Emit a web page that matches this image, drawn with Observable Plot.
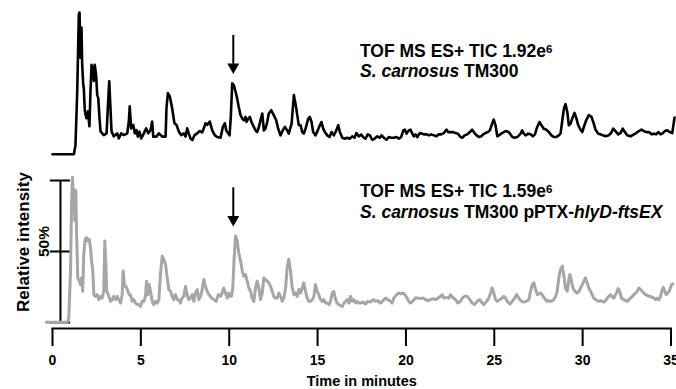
<!DOCTYPE html>
<html><head><meta charset="utf-8">
<script src="https://cdn.jsdelivr.net/npm/d3@7"></script>
<script src="https://cdn.jsdelivr.net/npm/@observablehq/plot@0.6"></script>
<style>
html,body{margin:0;padding:0;background:#fff;}
#chart svg{display:block;}
</style></head><body><div id="chart"></div>
<script>
// ---- data (retention time in minutes, relative intensity in %) ----
const topTime = [0.00,1.21,1.30,1.40,1.49,1.53,1.58,1.64,1.68,1.74,1.77,1.83,1.92,2.00,2.09,2.15,2.21,2.28,2.34,2.39,2.47,2.53,2.59,2.66,2.72,2.90,3.06,3.13,3.21,3.28,3.34,3.47,3.66,3.75,3.89,4.04,4.23,4.32,4.37,4.45,4.57,4.66,4.75,4.83,4.92,5.02,5.17,5.30,5.42,5.55,5.64,5.70,5.89,6.02,6.21,6.40,6.45,6.53,6.64,6.77,6.90,7.02,7.15,7.28,7.43,7.53,7.62,7.71,7.81,7.91,8.04,8.19,8.34,8.47,8.56,8.66,8.75,8.90,9.04,9.19,9.32,9.51,9.64,9.75,9.83,9.94,10.02,10.09,10.17,10.26,10.36,10.45,10.54,10.64,10.74,10.83,10.92,10.98,11.08,11.17,11.26,11.39,11.49,11.58,11.68,11.77,11.87,11.96,12.05,12.15,12.24,12.38,12.52,12.66,12.77,12.90,13.03,13.15,13.28,13.37,13.53,13.66,13.75,13.85,13.94,14.04,14.13,14.22,14.32,14.47,14.56,14.66,14.75,14.88,15.01,15.13,15.22,15.32,15.41,15.55,15.68,15.79,15.92,16.06,16.17,16.26,16.40,16.54,16.68,16.81,16.96,17.09,17.20,17.33,17.47,17.62,17.71,17.84,17.96,18.09,18.22,18.38,18.51,18.62,18.75,18.90,19.03,19.17,19.32,19.47,19.60,19.73,19.85,19.94,20.03,20.16,20.26,20.36,20.45,20.54,20.64,20.79,20.92,21.01,21.17,21.30,21.43,21.58,21.73,21.86,22.00,22.14,22.30,22.39,22.52,22.68,22.81,22.94,23.09,23.19,23.32,23.47,23.62,23.75,23.88,24.00,24.13,24.26,24.37,24.50,24.64,24.75,24.88,24.97,25.07,25.17,25.26,25.39,25.54,25.69,25.82,25.92,26.02,26.15,26.30,26.49,26.58,26.67,26.77,26.92,27.05,27.18,27.30,27.43,27.56,27.67,27.80,27.94,28.09,28.24,28.37,28.51,28.65,28.75,28.85,28.94,29.03,29.13,29.22,29.32,29.41,29.54,29.65,29.75,29.88,29.98,30.07,30.20,30.35,30.50,30.60,30.73,30.88,31.01,31.14,31.30,31.48,31.64,31.73,31.86,32.01,32.14,32.27,32.39,32.52,32.71,32.90,33.03,33.18,33.33,33.46,33.60,33.75,33.90,34.03,34.16,34.28,34.41,34.54,34.65,34.79,34.92,35.07,35.20];
const topIntensity = [0.2,0.2,6.6,44.7,98.8,100,68.1,89.4,63.1,48.9,46.8,30.5,25.5,30.5,19.9,44.7,63.1,61.0,51.8,63.1,56.0,41.8,39.7,25.5,16.3,13.7,14.9,32.6,51.6,32.6,16.3,12.8,14.9,11.3,14.9,13.7,14.9,23.4,34.0,18.4,20.8,14.9,17.2,12.6,16.1,11.3,14.9,18.4,14.9,17.2,23.2,12.6,12.6,14.9,12.6,12.6,32.6,43.3,40.9,32.6,22.0,20.8,16.1,13.7,14.9,12.6,18.4,14.9,11.3,10.1,13.7,14.9,16.5,15.6,18.4,22.0,20.8,23.2,17.0,13.5,12.3,11.8,19.4,22.0,17.0,14.9,13.5,26.5,50.1,48.9,44.2,39.5,33.5,27.7,25.3,24.1,26.5,22.9,25.3,26.5,22.9,19.4,17.0,15.8,19.4,24.1,28.9,17.0,18.2,22.9,28.9,31.2,27.7,24.1,18.2,13.5,17.0,19.4,17.0,14.7,21.8,41.8,36.0,27.7,20.6,20.6,15.8,14.7,18.2,25.3,26.5,22.9,15.8,13.5,17.0,20.6,22.9,18.2,15.8,13.5,12.3,15.8,13.5,17.0,20.6,15.8,11.8,11.1,11.8,11.1,12.8,11.8,15.1,12.8,14.0,11.8,11.1,14.2,13.5,10.4,11.1,12.8,11.8,13.5,11.8,10.4,12.3,11.8,11.8,12.3,11.1,12.3,17.0,17.5,14.7,17.0,17.5,14.7,12.8,14.2,12.3,15.1,14.7,14.2,14.2,13.5,14.2,13.5,12.8,14.2,14.2,15.1,17.5,15.8,15.8,15.8,15.1,14.7,12.3,11.8,13.5,14.2,15.8,17.5,15.1,13.5,12.3,12.8,14.2,15.1,15.8,17.0,21.8,24.6,20.6,12.8,13.5,14.7,15.8,16.5,15.8,14.2,12.3,11.8,12.3,14.7,17.0,14.7,13.5,14.7,14.2,12.8,14.2,19.4,22.9,20.6,18.2,17.5,15.8,13.5,12.3,12.3,13.5,14.7,24.1,32.4,35.5,30.0,20.6,21.8,25.3,29.3,25.3,20.6,17.5,15.8,19.4,24.1,27.7,26.5,22.9,17.5,14.7,14.2,13.5,12.8,13.5,15.8,18.2,16.5,14.2,15.1,18.2,15.8,13.5,12.8,14.2,15.1,16.5,17.5,16.5,15.8,15.8,14.2,14.7,14.2,15.8,14.2,15.1,16.5,17.0,15.8,15.1,26.0];

const bottomTime = [-0.35,0.83,0.92,1.02,1.08,1.13,1.17,1.21,1.26,1.32,1.36,1.43,1.53,1.58,1.64,1.71,1.77,1.85,1.92,2.00,2.08,2.15,2.21,2.28,2.34,2.43,2.53,2.62,2.72,2.81,2.90,2.96,3.02,3.07,3.19,3.28,3.38,3.47,3.57,3.66,3.75,3.85,3.94,4.00,4.07,4.15,4.23,4.34,4.41,4.51,4.60,4.70,4.79,4.88,4.98,5.08,5.17,5.26,5.32,5.39,5.47,5.55,5.64,5.73,5.83,5.93,6.02,6.11,6.21,6.30,6.40,6.49,6.58,6.68,6.77,6.86,6.96,7.06,7.15,7.24,7.34,7.43,7.53,7.62,7.71,7.81,7.91,8.00,8.09,8.19,8.28,8.38,8.47,8.56,8.66,8.75,8.85,8.94,9.00,9.13,9.26,9.38,9.51,9.60,9.69,9.79,9.89,9.98,10.06,10.13,10.20,10.28,10.36,10.45,10.54,10.64,10.74,10.83,10.92,11.02,11.11,11.21,11.30,11.39,11.49,11.58,11.68,11.77,11.87,11.96,12.05,12.15,12.24,12.34,12.43,12.52,12.62,12.72,12.81,12.90,13.00,13.09,13.19,13.28,13.37,13.47,13.57,13.66,13.75,13.85,13.94,14.04,14.13,14.22,14.32,14.41,14.50,14.60,14.70,14.79,14.88,14.98,15.07,15.17,15.26,15.35,15.45,15.55,15.64,15.73,15.83,15.92,16.02,16.11,16.20,16.40,16.49,16.58,16.68,16.77,16.86,16.96,17.05,17.15,17.24,17.33,17.43,17.58,17.71,17.84,17.99,18.15,18.28,18.41,18.56,18.71,18.85,18.98,19.13,19.22,19.32,19.47,19.60,19.73,19.85,19.94,20.07,20.16,20.26,20.41,20.54,20.67,20.83,20.98,21.11,21.24,21.39,21.55,21.68,21.81,21.96,22.05,22.15,22.30,22.43,22.52,22.68,22.81,22.94,23.09,23.19,23.32,23.47,23.62,23.75,23.88,24.04,24.18,24.32,24.41,24.56,24.69,24.79,24.88,24.97,25.07,25.17,25.31,25.45,25.54,25.64,25.73,25.88,26.02,26.15,26.26,26.39,26.54,26.67,26.81,26.96,27.05,27.15,27.24,27.34,27.43,27.52,27.62,27.71,27.80,27.90,27.99,28.09,28.18,28.28,28.37,28.47,28.56,28.65,28.75,28.85,28.94,29.03,29.13,29.22,29.28,29.37,29.45,29.56,29.69,29.79,29.88,29.98,30.07,30.16,30.26,30.35,30.45,30.54,30.63,30.73,30.83,30.92,31.01,31.11,31.20,31.30,31.39,31.48,31.58,31.67,31.77,31.86,31.96,32.01,32.09,32.20,32.33,32.43,32.52,32.62,32.71,32.81,32.90,33.00,33.09,33.18,33.28,33.37,33.46,33.56,33.66,33.75,33.84,33.94,34.03,34.13,34.22,34.32,34.41,34.50,34.56,34.65,34.73,34.82,34.92,35.03,35.11];
const bottomIntensity = [0.2,0.2,3.0,36.2,83.7,102.3,88.2,94.1,71.6,92.9,64.5,31.4,29.1,26.7,31.4,22.0,48.0,58.7,59.8,57.4,58.7,52.7,43.3,36.2,19.6,18.4,19.6,16.1,18.4,17.2,22.0,57.4,40.9,22.0,18.4,14.9,16.1,18.4,16.1,18.4,16.1,13.7,19.6,36.2,25.5,25.5,23.2,19.6,19.6,14.9,16.1,13.7,12.6,12.6,11.3,14.9,14.9,18.4,29.1,19.6,26.7,22.0,14.9,12.6,14.9,13.7,16.1,33.8,46.8,44.5,40.9,31.4,23.2,22.0,18.4,16.1,19.6,16.1,16.1,13.7,17.2,18.4,25.5,19.6,16.1,17.2,19.6,14.9,20.8,23.2,16.1,18.4,23.2,30.3,25.5,22.0,19.6,18.4,17.2,16.1,14.9,19.6,18.4,20.8,24.3,20.8,17.2,20.8,18.4,18.4,24.3,45.6,61.0,57.4,49.1,43.3,36.2,32.6,33.8,29.1,24.3,22.0,17.2,14.9,24.3,29.1,24.3,16.1,20.8,31.4,30.3,29.1,27.9,25.5,22.0,18.4,17.2,17.2,20.8,18.4,14.9,17.2,24.3,38.5,44.5,36.2,24.3,19.6,20.8,18.4,23.2,20.8,24.3,27.9,22.0,17.2,14.9,14.9,16.1,18.4,26.7,22.0,19.6,16.1,14.9,16.1,13.7,13.7,12.6,14.9,20.8,22.0,16.1,13.7,12.6,11.3,13.7,14.9,16.1,13.7,18.4,14.9,16.1,13.7,14.9,13.7,13.7,14.4,13.0,14.9,14.4,16.1,14.9,15.4,13.7,15.4,17.2,16.1,14.9,13.7,17.2,19.6,20.8,20.1,20.8,19.6,17.2,14.9,13.7,15.4,17.2,17.2,16.8,17.2,16.1,15.4,16.1,16.8,16.1,17.2,18.4,19.6,17.2,17.7,17.2,19.6,17.2,16.1,13.7,14.9,17.2,18.4,18.4,16.1,13.7,12.6,14.9,16.1,13.7,12.6,14.9,17.2,20.8,24.3,20.8,16.1,14.9,16.1,17.2,18.4,17.2,14.9,13.0,14.9,17.2,19.6,17.2,14.9,14.4,14.9,16.1,22.0,26.7,27.9,23.2,19.6,20.1,20.8,19.6,17.7,16.1,14.9,15.4,14.9,15.4,16.1,18.4,22.0,31.4,37.4,39.7,32.6,24.3,22.0,30.3,33.8,29.1,24.3,22.0,20.8,22.0,24.3,26.7,29.1,31.4,27.9,24.3,22.0,19.6,17.2,16.1,15.4,14.9,15.4,14.9,14.4,15.4,17.2,18.4,19.6,18.4,17.2,19.6,22.0,23.9,22.0,17.2,16.1,15.4,14.9,16.1,17.2,18.4,19.6,20.8,22.0,24.3,23.2,22.0,20.8,19.6,19.1,18.4,18.4,17.7,17.2,16.1,17.2,16.1,18.4,23.2,24.8,22.0,19.6,20.8,22.5,26.7,27.2];

const xTicks = [0, 5, 10, 15, 20, 25, 30, 35];
const yTicks = [0, 50, 100];
const yTickLabel = "50%";
const arrowTime = 10.23;
const topArrowPeak = 50.1;
const bottomArrowPeak = 61.0;
const topLabel = [
  [{t: "TOF MS ES+ TIC 1.92e"}, {t: "6", sup: true}],
  [{t: "S. carnosus", it: true}, {t: " TM300"}]
];
const bottomLabel = [
  [{t: "TOF MS ES+ TIC 1.59e"}, {t: "6", sup: true}],
  [{t: "S. carnosus", it: true}, {t: " TM300 pPTX-"}, {t: "hlyD-ftsEX", it: true}]
];
const xLabel = "Time in minutes";
const yLabel = "Relative intensity";

// ---- layout ----
const TOP_OFFSET = 118.3;      // vertical stacking offset of the upper trace (in % units)
const PX = 100 / 142;          // % units per pixel
const FONT = "'Liberation Sans', Arial, Helvetica, sans-serif";
const Y_AXIS_AT = 0.45;        // minutes where the intensity axis stands
const TICK_HALF = 0.57;        // minutes

const topData = topTime.map((t, i) => ({t, v: topIntensity[i] + TOP_OFFSET}));
const bottomData = bottomTime.map((t, i) => ({t, v: bottomIntensity[i]}));
const arrows = [
  {t: arrowTime, peak: topArrowPeak + TOP_OFFSET},
  {t: arrowTime, peak: bottomArrowPeak}
];

const plot = Plot.plot({
  width: 676, height: 389,
  marginLeft: 52, marginRight: 5.5, marginTop: 0, marginBottom: 61,
  style: {fontFamily: FONT, background: "white", color: "black", overflow: "visible"},
  x: {domain: [0, 35]},
  y: {domain: [0, 100], range: [322, 180], axis: null},
  marks: [
    Plot.frame({anchor: "bottom", stroke: "black", strokeWidth: 2}),
    Plot.axisX(xTicks, {tickSize: 18, tickPadding: 9, strokeWidth: 2, fontSize: 14, fontWeight: "bold", label: null, tickFormat: d => String(d)}),
    Plot.text([xLabel], {frameAnchor: "bottom", dy: 57, fontSize: 14.5, fontWeight: "bold"}),
    // intensity axis of lower trace
    Plot.ruleX([Y_AXIS_AT], {y1: -0.3, y2: 100, stroke: "black", strokeWidth: 2}),
    Plot.ruleY(yTicks, {x1: Y_AXIS_AT - TICK_HALF, x2: Y_AXIS_AT + TICK_HALF, stroke: "black", strokeWidth: 2}),
    Plot.text([yTickLabel], {x: 0, y: 50, dx: -8.7, dy: -10, rotate: -90, fontSize: 15.5, fontWeight: "bold"}),
    Plot.text([yLabel], {x: 0, y: 50, dx: -29, dy: -9.5, rotate: -90, fontSize: 17, fontWeight: "bold"}),
    // traces
    Plot.line(topData, {x: "t", y: "v", stroke: "black", strokeWidth: 2.6, strokeLinejoin: "round"}),
    Plot.line(bottomData, {x: "t", y: "v", stroke: "#a6a6a6", strokeWidth: 3, strokeLinejoin: "round"}),
    // arrows
    Plot.ruleX(arrows, {x: "t", y1: d => d.peak + 18 * PX, y2: d => d.peak + 48 * PX, stroke: "black", strokeWidth: 2}),
    Plot.dot(arrows, {x: "t", y: d => d.peak + 16.4 * PX, symbol: "triangle", r: 4.45, rotate: 180, fill: "black", stroke: "none"})
  ]
});

// multi-style annotations, placed with the plot's own scales
const sx = plot.scale("x"), sy = plot.scale("y");
const svg = d3.select(plot);
const LABEL_TIME = 17.43;
function addLabel(lines, yValues) {
  const g = svg.append("g")
    .attr("font-family", FONT).attr("font-weight", "bold").attr("font-size", 17.5)
    .attr("fill", "black").attr("text-anchor", "start");
  lines.forEach((parts, i) => {
    const text = g.append("text").attr("x", sx.apply(LABEL_TIME)).attr("y", sy.apply(yValues[i]));
    parts.forEach(p => {
      const ts = text.append("tspan").text(p.t);
      if (p.it) ts.attr("font-style", "italic");
      if (p.sup) ts.attr("font-size", 11.5).attr("dy", -4);
    });
  });
}
addLabel(topLabel, [186.6, 172.2]);
addLabel(bottomLabel, [88.0, 72.9]);

document.getElementById("chart").appendChild(plot);
</script></body></html>
